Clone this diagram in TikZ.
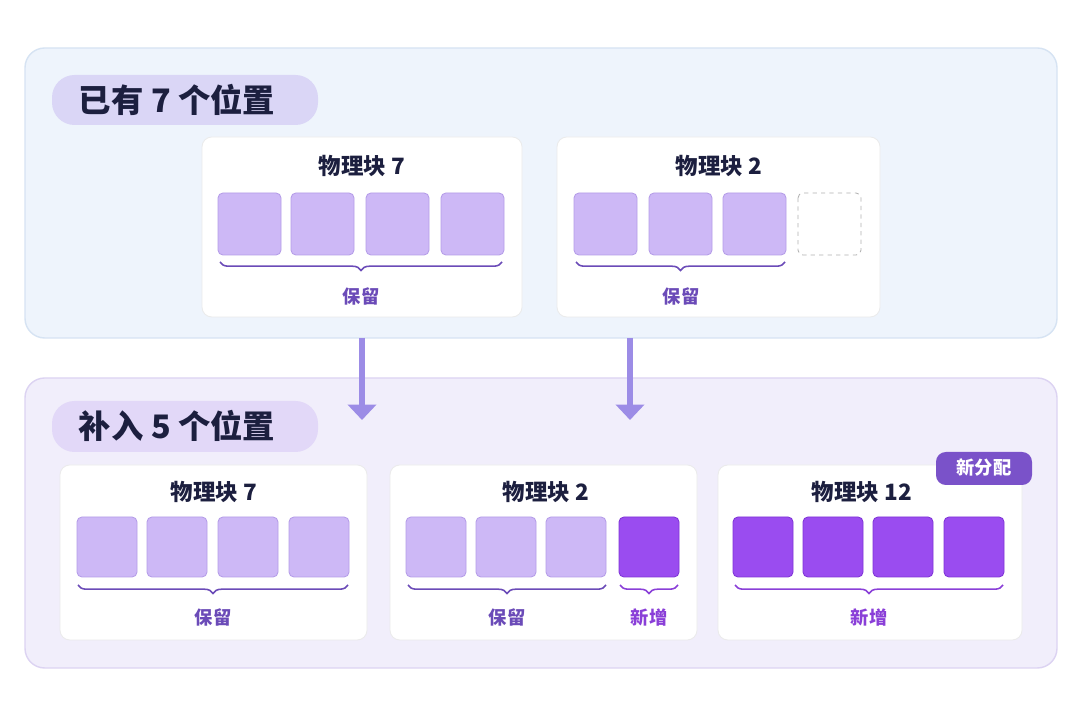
\documentclass[tikz,border=0pt]{standalone}
\usepackage{fontspec}
\setmainfont{Noto Sans CJK SC}
\usetikzlibrary{decorations.pathreplacing,arrows.meta}
\definecolor{bgA}{HTML}{EEF4FC}
\definecolor{bgAline}{HTML}{D6E3F3}
\definecolor{bgB}{HTML}{F1EEFB}
\definecolor{bgBline}{HTML}{DCD3F2}
\definecolor{pill}{HTML}{DAD6F6}
\definecolor{pillB}{HTML}{E2D8F8}
\definecolor{ink}{HTML}{1C1F3F}
\definecolor{sqL}{HTML}{CDB8F6}
\definecolor{sqLline}{HTML}{B59DE8}
\definecolor{sqD}{HTML}{9A4CF0}
\definecolor{sqDline}{HTML}{7F35D6}
\definecolor{lab}{HTML}{6B4BB8}
\definecolor{labD}{HTML}{8A3FD8}
\definecolor{arr}{HTML}{9C8CE6}
\definecolor{badge}{HTML}{7A52C9}
\begin{document}
\begin{tikzpicture}[x=0.025cm,y=-0.025cm,
  panel/.style={draw=#1,line width=1pt,rounded corners=14pt},
  card/.style={draw=black!8,fill=white,rounded corners=7pt,line width=0.6pt},
  sq/.style={draw=sqLline,fill=sqL,rounded corners=3.5pt,line width=0.6pt},
  sqd/.style={draw=sqDline,fill=sqD,rounded corners=3.5pt,line width=0.6pt},
  sqe/.style={draw=black!30,dashed,fill=white,rounded corners=3.5pt,line width=0.6pt},
  ttl/.style={font=\bfseries\fontsize{16}{18}\selectfont,text=ink},
  big/.style={font=\bfseries\fontsize{23}{26}\selectfont,text=ink},
  brc/.style={decorate,decoration={brace,mirror,amplitude=6pt},line width=1.1pt},
  lb/.style={font=\bfseries\fontsize{13}{15}\selectfont},
  ar/.style={draw=arr,line width=4pt,-{Triangle[length=11pt,width=20pt]}}]
\useasboundingbox (0,0) rectangle (1080,720);
\fill[white] (0,0) rectangle (1080,720);
% panels
\draw[panel=bgAline,fill=bgA] (25,48) rectangle (1057,338);
\draw[panel=bgBline,fill=bgB] (25,378) rectangle (1057,668);
\fill[pill,rounded corners=16pt] (52,75) rectangle (318,125);
\node[big,anchor=west] (t1) at (74,100) {已有 7 个位置};
\fill[pillB,rounded corners=16pt] (52,401) rectangle (318,452);
\node[big,anchor=west] (t2) at (74,426) {补入 5 个位置};
% top cards
\draw[card] (202,137) rectangle (522,317);
\node[ttl] (h1) at (362,166) {物理块 7};
\foreach \x in {218,291,366,441}{\draw[sq] (\x,193) rectangle ++(63,62);}
\coordinate (b1a) at (220,262); \coordinate (b1b) at (502,262);
\draw[brc,draw=lab] (b1a) -- (b1b);
\node[lb,text=lab] (l1) at (361,296) {保留};
\draw[card] (557,137) rectangle (880,317);
\node[ttl] (h2) at (719,166) {物理块 2};
\foreach \x in {574,649,723}{\draw[sq] (\x,193) rectangle ++(63,62);}
\draw[sqe] (798,193) rectangle ++(63,62);
\coordinate (b2a) at (576,262); \coordinate (b2b) at (785,262);
\draw[brc,draw=lab] (b2a) -- (b2b);
\node[lb,text=lab] (l2) at (681,296) {保留};
% arrows
\coordinate (a1s) at (362,338); \coordinate (a1e) at (362,420);
\coordinate (a2s) at (630,338); \coordinate (a2e) at (630,420);
\draw[ar] (a1s) -- (a1e);
\draw[ar] (a2s) -- (a2e);
% bottom cards
\draw[card] (60,465) rectangle (367,640);
\node[ttl] (h3) at (214,492) {物理块 7};
\foreach \x in {77,147,218,289}{\draw[sq] (\x,517) rectangle ++(60,60);}
\coordinate (b3a) at (78,585); \coordinate (b3b) at (348,585);
\draw[brc,draw=lab] (b3a) -- (b3b);
\node[lb,text=lab] (l3) at (213,617) {保留};
\draw[card] (390,465) rectangle (697,640);
\node[ttl] (h4) at (546,492) {物理块 2};
\foreach \x in {406,476,546}{\draw[sq] (\x,517) rectangle ++(60,60);}
\draw[sqd] (619,517) rectangle ++(60,60);
\coordinate (b4a) at (408,585); \coordinate (b4b) at (606,585);
\draw[brc,draw=lab] (b4a) -- (b4b);
\node[lb,text=lab] (l4) at (507,617) {保留};
\coordinate (b5a) at (620,585); \coordinate (b5b) at (678,585);
\draw[brc,draw=labD] (b5a) -- (b5b);
\node[lb,text=labD] (l5) at (649,617) {新增};
\draw[card] (718,465) rectangle (1022,640);
\node[ttl] (h5) at (862,492) {物理块 12};
\foreach \x in {733,803,873,944}{\draw[sqd] (\x,517) rectangle ++(60,60);}
\coordinate (b6a) at (735,585); \coordinate (b6b) at (1003,585);
\draw[brc,draw=labD] (b6a) -- (b6b);
\node[lb,text=labD] (l6) at (869,617) {新增};
\fill[badge,rounded corners=7pt] (936,452) rectangle (1032,485);
\node[lb,text=white] (bd) at (984,468) {新分配};
\end{tikzpicture}
\end{document}
